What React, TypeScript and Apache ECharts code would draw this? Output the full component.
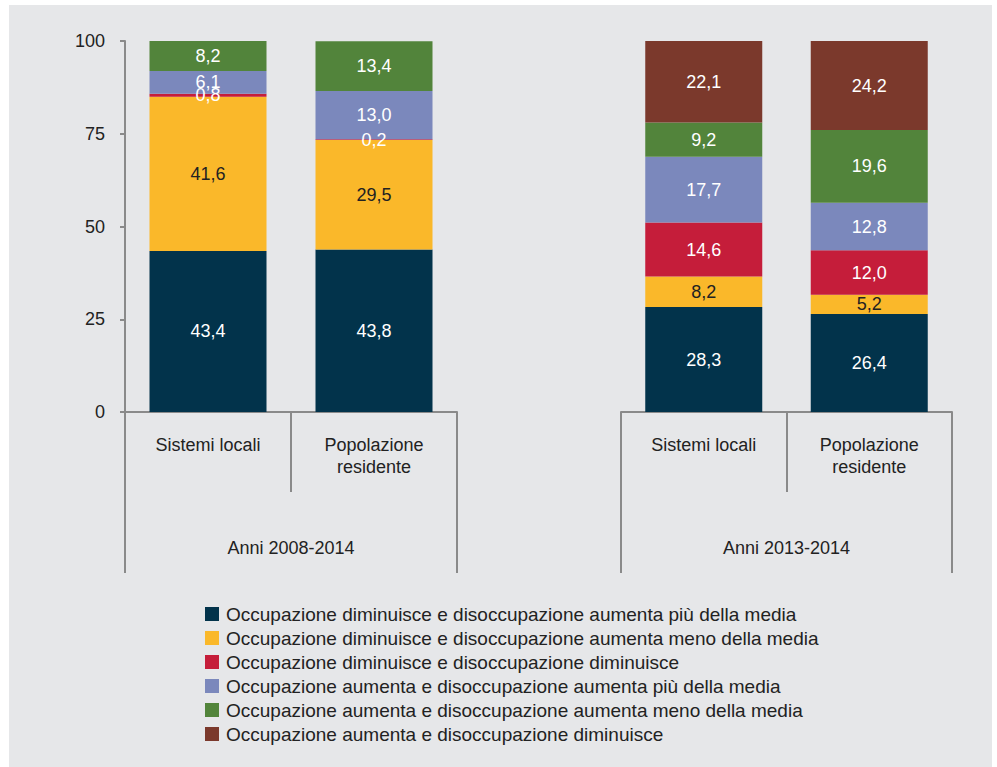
import React, { useEffect, useRef } from "react";
import * as echarts from "echarts";

const categories = ["Sistemi locali", "Popolazione\nresidente"];
const periods = ["Anni 2008-2014", "Anni 2013-2014"];
const seriesNames = [
  "Occupazione diminuisce e disoccupazione aumenta più della media",
  "Occupazione diminuisce e disoccupazione aumenta meno della media",
  "Occupazione diminuisce e disoccupazione diminuisce",
  "Occupazione aumenta e disoccupazione aumenta più della media",
  "Occupazione aumenta e disoccupazione aumenta meno della media",
  "Occupazione aumenta e disoccupazione diminuisce",
];
// values per series: [Sistemi locali, Popolazione residente]
const values2008 = [
  [43.4, 43.8],
  [41.6, 29.5],
  [0.8, 0.2],
  [6.1, 13.0],
  [8.2, 13.4],
  [0, 0],
];
const values2013 = [
  [28.3, 26.4],
  [8.2, 5.2],
  [14.6, 12.0],
  [17.7, 12.8],
  [9.2, 19.6],
  [22.1, 24.2],
];
const yTicks = [0, 25, 50, 75, 100];

const colors = ["#02334b", "#fab82a", "#c51d3a", "#7b88bc", "#52843b", "#7b392c"];
const labelColors = ["#ffffff", "#222222", "#ffffff", "#ffffff", "#ffffff", "#ffffff"];

const FONT = "'Liberation Sans', Arial, Helvetica, sans-serif";
const AXIS_COLOR = "#8a8a8a";
const TEXT = "#222222";

export default function App() {
  const ref = useRef<HTMLDivElement>(null);
  useEffect(() => {
    if (!ref.current) return;
    const chart = echarts.init(ref.current, undefined, { renderer: "svg" });

    const grids = [
      { left: 116, top: 36, width: 332, height: 371 },
      { left: 612, top: 36, width: 331, height: 371 },
    ];

    const xAxes: any[] = [];
    const yAxes: any[] = [];
    [0, 1].forEach((g) => {
      xAxes.push({
        type: "category",
        gridIndex: g,
        position: "bottom",
        data: categories,
        axisLine: { show: true, lineStyle: { color: AXIS_COLOR, width: 2 } },
        axisTick: { show: true, interval: 0, length: 80, lineStyle: { color: AXIS_COLOR, width: 2 } },
        axisLabel: {
          interval: 0,
          margin: 22,
          fontSize: 18,
          lineHeight: 22,
          color: TEXT,
          fontFamily: FONT,
        },
      });
      xAxes.push({
        type: "category",
        gridIndex: g,
        position: "bottom",
        data: [periods[g]],
        axisLine: { show: false },
        axisTick: { show: true, interval: 0, length: 161, lineStyle: { color: AXIS_COLOR, width: 2 } },
        axisLabel: {
          interval: 0,
          margin: 126,
          fontSize: 18,
          lineHeight: 20,
          color: TEXT,
          fontFamily: FONT,
        },
      });
      yAxes.push({
        type: "value",
        gridIndex: g,
        min: yTicks[0],
        max: yTicks[yTicks.length - 1],
        interval: 25,
        show: g === 0,
        axisLine: { show: true, lineStyle: { color: AXIS_COLOR, width: 2 } },
        axisTick: { show: true, length: 5, lineStyle: { color: AXIS_COLOR, width: 2 } },
        splitLine: { show: false },
        axisLabel: {
          margin: 20,
          fontSize: 18,
          color: TEXT,
          fontFamily: FONT,
          padding: [0, 0, 8, 0],
        },
      });
    });

    const series: any[] = [];
    [values2008, values2013].forEach((vals, g) => {
      vals.forEach((v, i) => {
        series.push({
          type: "bar",
          name: seriesNames[i],
          stack: "g" + g,
          xAxisIndex: g * 2,
          yAxisIndex: g,
          barWidth: 117,
          data: v,
          itemStyle: { color: colors[i] },
          label: {
            show: true,
            position: "inside",
            fontSize: 18,
            fontFamily: FONT,
            color: labelColors[i],
            formatter: (p: any) =>
              p.value === 0 ? "" : Number(p.value).toFixed(1).replace(".", ","),
          },
        });
      });
    });

    chart.setOption({
      animation: false,
      backgroundColor: "#e6e7e9",
      textStyle: { fontFamily: FONT },
      grid: grids,
      xAxis: xAxes,
      yAxis: yAxes,
      legend: {
        orient: "vertical",
        left: 191,
        top: 594,
        itemWidth: 14,
        itemHeight: 14,
        itemGap: 4,
        icon: "rect",
        data: seriesNames,
        selectedMode: false,
        textStyle: {
          fontSize: 19,
          lineHeight: 20,
          color: TEXT,
          fontFamily: FONT,
          padding: [0, 0, 0, 2],
        },
      },
      series,
    });

    return () => chart.dispose();
  }, []);

  return (
    <div
      ref={ref}
      style={{
        position: "absolute",
        left: 9,
        top: 5,
        width: 983,
        height: 762,
      }}
    />
  );
}
